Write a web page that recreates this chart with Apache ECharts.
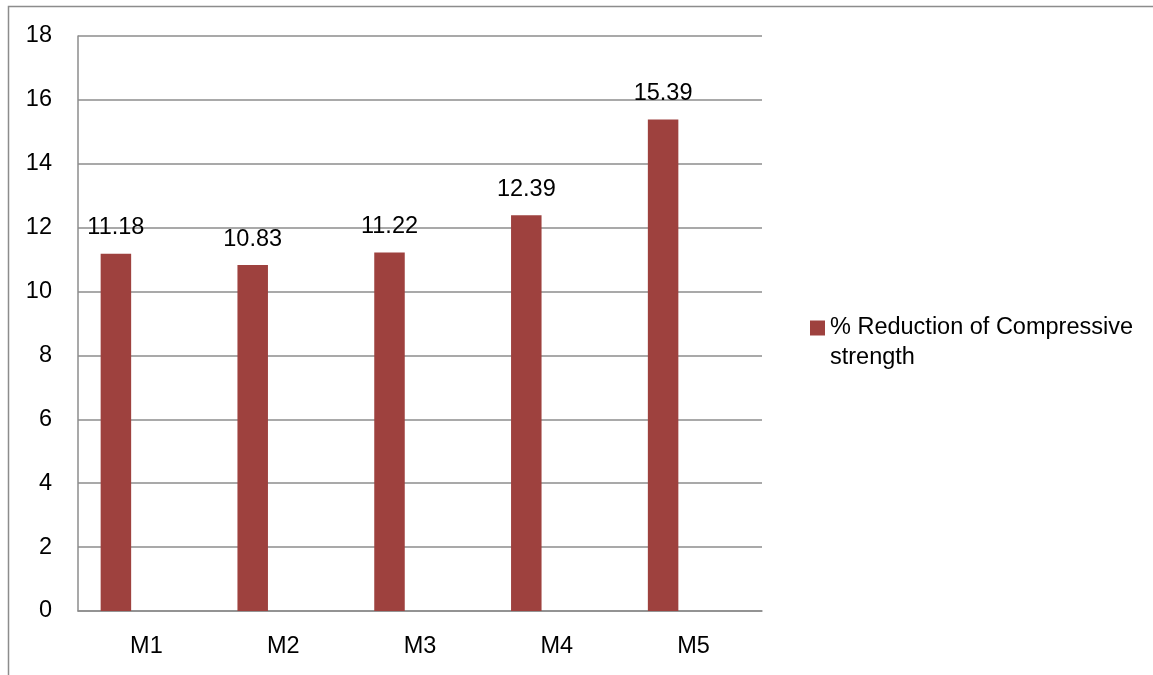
<!DOCTYPE html>
<html>
<head>
<meta charset="utf-8">
<script src="https://cdn.jsdelivr.net/npm/echarts@6/dist/echarts.min.js"></script>
<style>
html,body{margin:0;padding:0;background:#fff;}
#chart{width:1153px;height:675px;}
</style>
</head>
<body>
<div id="chart"></div>
<script>
const categories = ['M1', 'M2', 'M3', 'M4', 'M5'];
const reductionValues = [11.18, 10.83, 11.22, 12.39, 15.39];
const seriesName = '% Reduction of Compressive strength';
const yTicks = { min: 0, max: 18, interval: 2 };

const chart = echarts.init(document.getElementById('chart'));
const font = '"Liberation Sans", Arial, sans-serif';
const fs = 23.5;
chart.setOption({
  animation: false,
  textStyle: { fontFamily: font },
  graphic: [{
    type: 'rect', silent: true,
    shape: { x: 8.5, y: 6.5, width: 1300, height: 900 },
    style: { fill: 'none', stroke: '#8c8c8c', lineWidth: 1.5 }
  }],
  grid: { left: 78, right: 391, top: 36, bottom: 64, containLabel: false },
  legend: {
    data: [seriesName],
    left: 805, top: 278,
    orient: 'vertical',
    icon: 'rect', itemWidth: 15, itemHeight: 15, itemGap: 6,
    formatter: () => '\n% Reduction of Compressive\nstrength',
    textStyle: { fontSize: fs, color: '#000', fontFamily: font, lineHeight: 30 }
  },
  xAxis: {
    type: 'category', data: categories,
    axisLine: { lineStyle: { color: '#8c8c8c', width: 1.5 } },
    axisTick: { show: false },
    axisLabel: { color: '#000', fontSize: fs, margin: 24, fontFamily: font }
  },
  yAxis: {
    type: 'value', min: yTicks.min, max: yTicks.max, interval: yTicks.interval,
    axisLine: { show: true, lineStyle: { color: '#8c8c8c', width: 1.5 } },
    axisTick: { show: false },
    splitLine: { lineStyle: { color: '#8c8c8c', width: 1.5 } },
    axisLabel: { color: '#000', fontSize: fs, margin: 26, fontFamily: font }
  },
  series: [
    {
      name: seriesName, type: 'bar', data: reductionValues,
      barWidth: 30.5, barGap: '0%',
      itemStyle: { color: '#9e413e' },
      label: { show: true, position: 'top', distance: 14, color: '#000', fontSize: fs, fontFamily: font, formatter: p => p.value.toFixed(2) }
    },
    { name: 'empty2', type: 'bar', data: [], barWidth: 30.5, barGap: '0%' },
    { name: 'empty3', type: 'bar', data: [], barWidth: 30.5, barGap: '0%' }
  ]
});
</script>
</body>
</html>
